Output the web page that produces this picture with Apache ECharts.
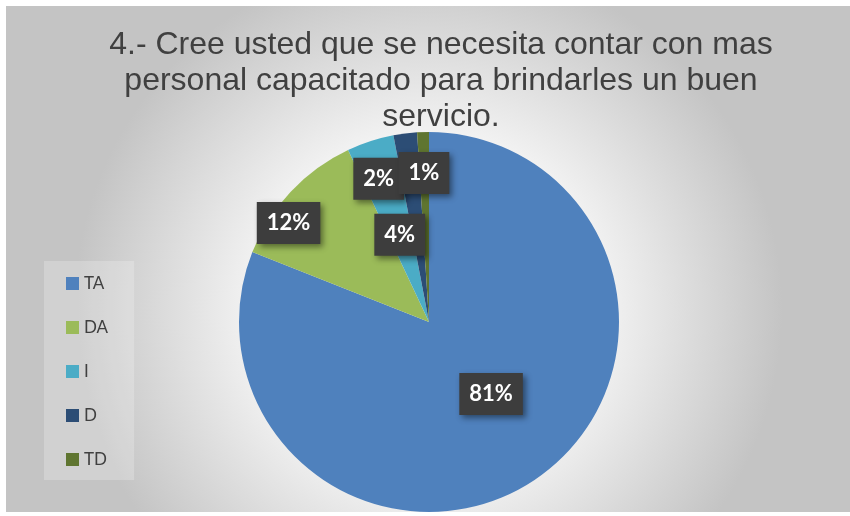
<!DOCTYPE html>
<html>
<head>
<meta charset="utf-8">
<script src="https://cdn.jsdelivr.net/npm/echarts@6/dist/echarts.min.js"></script>
<style>
    body { margin: 0; background: #ffffff; }
    #pie { position: absolute; left: 6px; top: 6px; width: 844px; height: 506px; }
</style>
</head>
<body>
<div id="pie"></div>
<script>
var pie = echarts.init(document.getElementById('pie'));

var title_text = '4.- Cree usted que se necesita contar con mas\npersonal capacitado para brindarles un buen\nservicio.';
var categories = ['TA', 'DA', 'I', 'D', 'TD'];
var percents = [81, 12, 4, 2, 1];
var colors = ['#4f81bd', '#9bbb59', '#4bacc6', '#2c4d75', '#5f7530'];
// where Excel pushed each label away from the slice middle
var label_offsets = [[7, -9], [-69, -32], [1, 6], [-38, -46], [-2, -51]];

var pie_series_data = [];
for (var i = 0; i < categories.length; i++) {
    pie_series_data.push({
        value: percents[i],
        name: categories[i],
        itemStyle: { color: colors[i] },
        label: { offset: label_offsets[i] }
    });
}

var pie_option = {
    backgroundColor: {
        type: 'radial', x: 0.5, y: 0.6, r: 0.7,
        colorStops: [
            { offset: 0, color: '#ffffff' },
            { offset: 0.5, color: '#f2f2f2' },
            { offset: 1, color: '#c4c4c4' }
        ]
    },
    graphic: [{
        type: 'text',
        x: 435,
        y: 21,
        style: {
            text: title_text,
            font: '32px "Liberation Sans"',
            textAlign: 'center',
            textVerticalAlign: 'top',
            lineHeight: 36,
            fill: '#404040'
        }
    }],
    legend: {
        orient: 'vertical',
        left: 38,
        top: 255,
        padding: [14, 26, 12, 22],
        backgroundColor: 'rgba(255,255,255,0.22)',
        itemWidth: 13,
        itemHeight: 13,
        itemGap: 27,
        icon: 'rect',
        data: categories,
        textStyle: {
            fontFamily: 'Lato',
            fontSize: 17,
            color: '#404040'
        }
    },
    series: [
        {
            type: 'pie',
            radius: [0, 190],
            center: [423, 316],
            startAngle: 90,
            clockwise: true,
            avoidLabelOverlap: false,
            minShowLabelAngle: 0,
            labelLayout: { hideOverlap: false },
            label: {
                show: true,
                position: 'inside',
                rotate: 0,
                formatter: '{c}%',
                color: '#ffffff',
                fontFamily: 'Lato',
                fontWeight: 'bold',
                fontSize: 22,
                backgroundColor: '#3d3d3d',
                padding: [10, 10, 10, 10],
                shadowColor: 'rgba(0,0,0,0.45)',
                shadowBlur: 6,
                shadowOffsetX: 3,
                shadowOffsetY: 3
            },
            labelLine: {
                show: false
            },
            emphasis: {
                disabled: true
            },
            data: pie_series_data
        }
    ]
};

pie.setOption(pie_option);
</script>
</body>
</html>
